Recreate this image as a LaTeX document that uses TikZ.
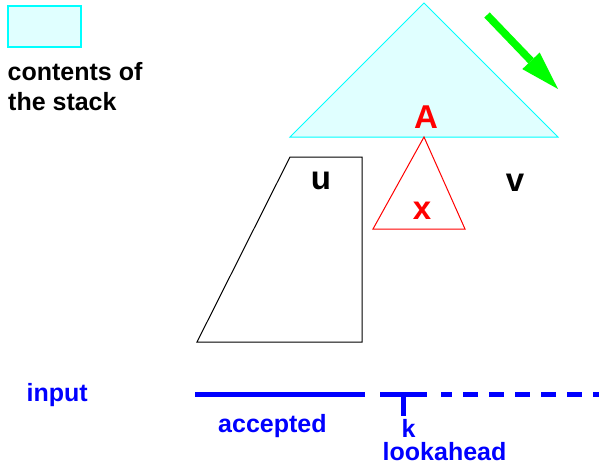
\documentclass[tikz,border=0pt]{standalone}
\usepackage{fontspec}
\setmainfont{Liberation Sans}
\definecolor{stackfill}{RGB}{224,255,255}
\definecolor{purecyan}{RGB}{0,255,255}
\definecolor{pureblue}{RGB}{0,0,255}
\definecolor{puregreen}{RGB}{0,255,0}
\definecolor{purered}{RGB}{255,0,0}
\begin{document}
\begin{tikzpicture}[x=1pt,y=-1pt,
  stackshape/.style={draw=purecyan,fill=stackfill,line width=1pt},
  lbl/.style={font=\fontsize{25}{29}\selectfont\bfseries, inner sep=0pt, anchor=base west},
  biglbl/.style={font=\fontsize{33}{38}\selectfont\bfseries, inner sep=0pt, anchor=base},
  inputline/.style={draw=pureblue, line width=5pt},
  outline/.style={line width=1pt}
]
\useasboundingbox (0,0) rectangle (599,466);
% legend
\draw[stackshape,line width=1.5pt] (8,6) rectangle (81,47);
\node[lbl] (leg1) at (7.5,80) {contents of};
\node[lbl] (leg2) at (8,110.5) {the stack};
% stack triangle
\coordinate (st) at (424,3);
\coordinate (sl) at (290,137);
\coordinate (sr) at (558,137);
\draw[stackshape] (st) -- (sl) -- (sr) -- cycle;
% green arrow
\coordinate (g1) at (487,15);
\coordinate (gb) at (531,60.8);
\coordinate (gt) at (558,89);
\coordinate (gh1) at (539.7,52.5);
\coordinate (gh2) at (522.3,69.1);
\draw[puregreen,line width=7.5pt] (g1) -- (gb);
\fill[puregreen] (gh1) -- (gt) -- (gh2) -- cycle;
% red triangle
\coordinate (rt) at (424,137);
\coordinate (rl) at (373,229);
\coordinate (rr) at (465,229);
\draw[purered,outline] (rt) -- (rl) -- (rr) -- cycle;
% trapezoid
\coordinate (t1) at (290,157);
\coordinate (t2) at (362,157);
\coordinate (t3) at (362,342);
\coordinate (t4) at (197,342);
\draw[black,outline] (t1) -- (t2) -- (t3) -- (t4) -- cycle;
% big labels
\node[biglbl,text=purered] (A) at (426,128) {A};
\node[biglbl,text=purered] (x) at (422,219) {x};
\node[biglbl] (u) at (321,189) {u};
\node[biglbl] (v) at (515,191) {v};
% input line
\coordinate (i1) at (195,394);
\coordinate (i2) at (365,394);
\coordinate (i3) at (380,394);
\coordinate (i4) at (427,394);
\coordinate (k1) at (403,394);
\coordinate (k2) at (403,416);
\coordinate (d1) at (441,394);
\coordinate (d2) at (610,394);
\draw[inputline] (i1) -- (i2);
\draw[inputline] (i3) -- (i4);
\draw[inputline] (k1) -- (k2);
\draw[inputline,dash pattern=on 15pt off 11pt,dash phase=4pt] (d1) -- (d2);
\node[lbl,text=pureblue] (inp) at (26.5,401) {input};
\node[lbl,text=pureblue] (acc) at (218,432) {accepted};
\node[lbl,text=pureblue] (k) at (401.5,437) {k};
\node[lbl,text=pureblue] (look) at (382.5,460) {lookahead};
\end{tikzpicture}
\end{document}
